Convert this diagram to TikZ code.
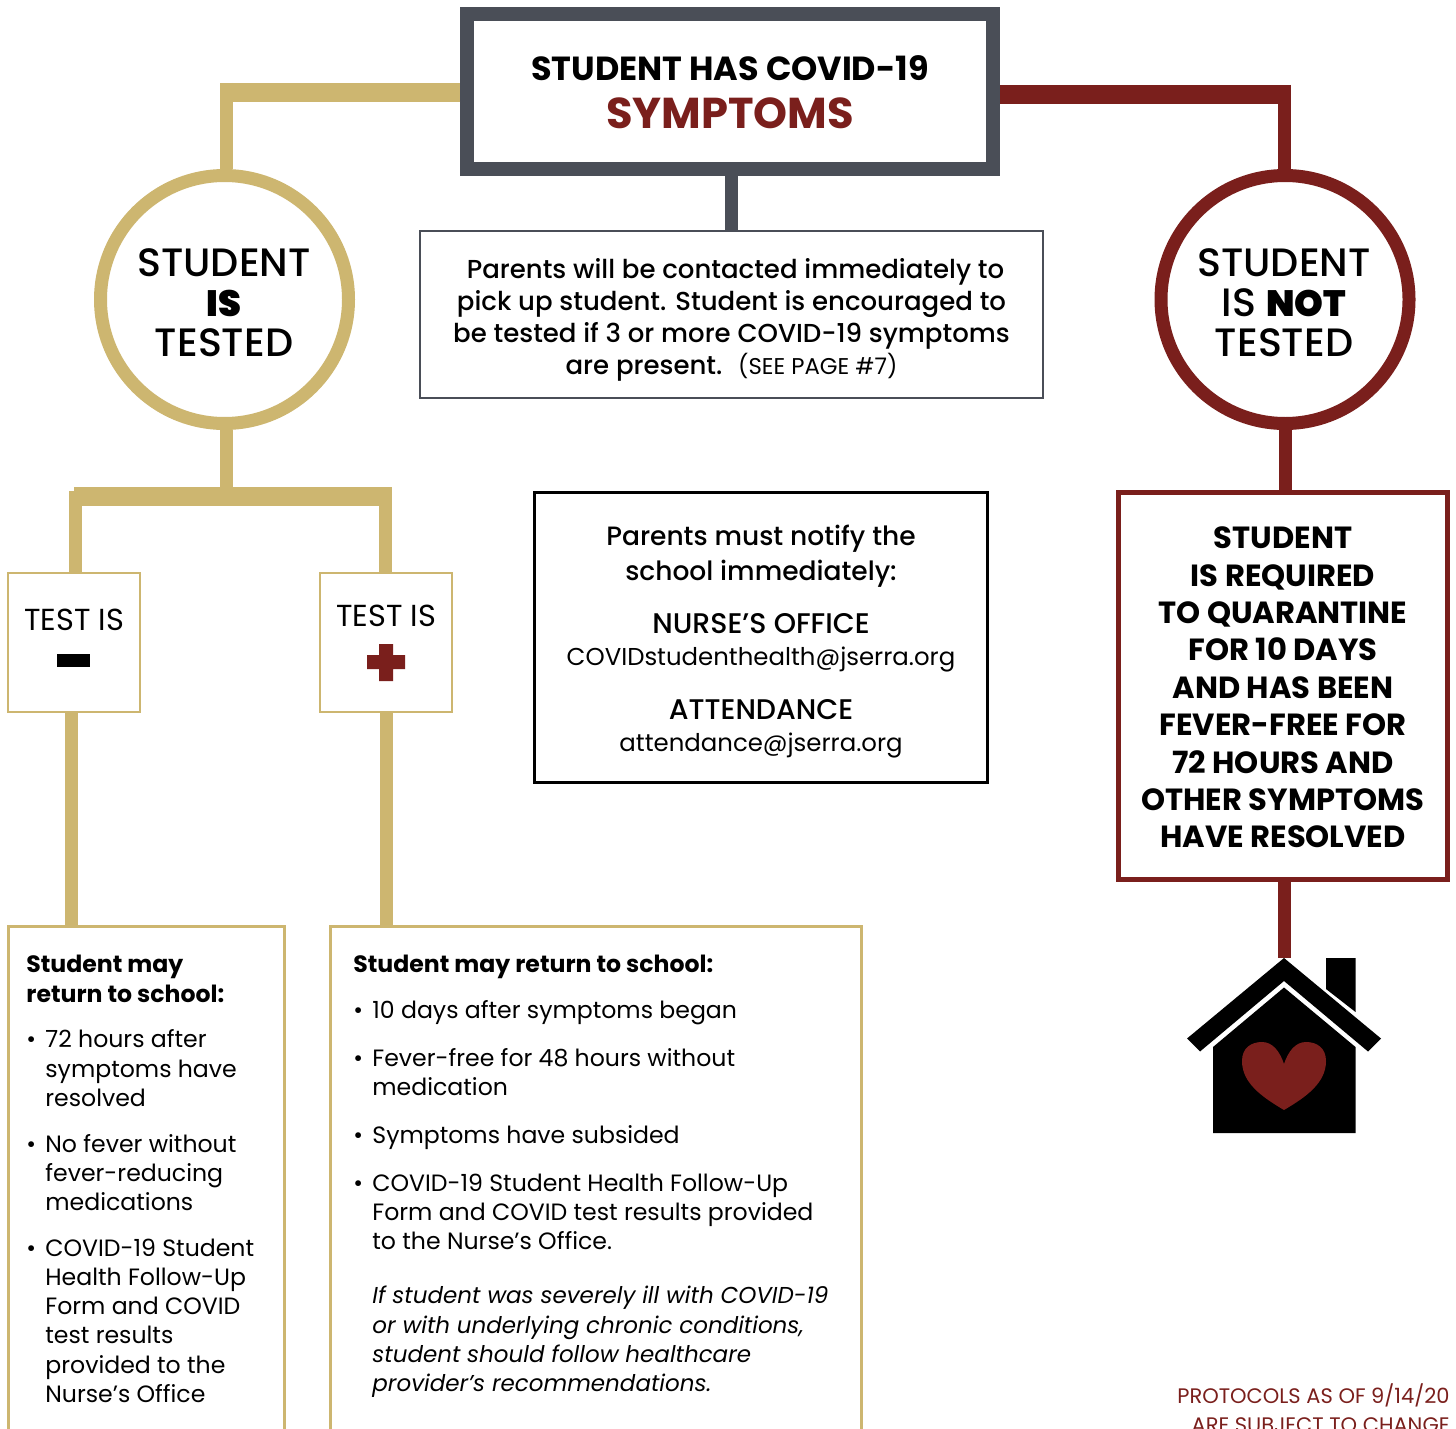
\documentclass[tikz,border=0pt]{standalone}
\usepackage{fontspec}
\usepackage{color}
\usetikzlibrary{calc}
\setmainfont{Poppins}
\newfontfamily\mediumfont{Poppins Medium}
\newfontfamily\blackfont{Poppins Black}
\definecolor{gold}{RGB}{205,182,112}
\definecolor{maroon}{RGB}{122,31,28}
\definecolor{slate}{RGB}{74,78,87}
\newcommand{\bul}[1]{\makebox[9.5pt][l]{\textbullet}#1}
\newcommand{\cont}[1]{\hspace*{9.5pt}#1}
\newcommand{\heavy}[1]{{\blackfont\fontsize{18.3}{20}\selectfont #1}}

\begin{document}
\begin{tikzpicture}[x=0.5pt, y=-0.5pt, inner sep=0pt,
      txt/.style={align=center},
      goldthin/.style={draw=gold, line width=6.5pt},
      goldthick/.style={draw=gold, line width=9.5pt},
      redthin/.style={draw=maroon, line width=6.5pt},
      redthick/.style={draw=maroon, line width=9.5pt},
      goldbox/.style={draw=gold, line width=1.3pt, fill=white},
      ring/.style={circle, minimum size=124pt, line width=6.5pt, fill=white},
      ringfont/.style={font=\fontsize{19.8}{20}\selectfont\mediumfont},
      testfont/.style={font=\fontsize{15.2}{16}\selectfont},
      body/.style={align=left, anchor=north west, font=\fontsize{11.8}{14.6}\selectfont}]
    \useasboundingbox (0,0) rectangle (1456,1429);
    \clip (0,0) rectangle (1456,1429);

    \node (TOP) [draw=slate, line width=7pt, minimum width=263pt, minimum height=77.5pt] at (730,91.5) {};
    \node (TOPTXT) [txt, font=\fontsize{16.7}{22}\selectfont] at (730,92.5)
      {\textbf{STUDENT HAS COVID-19}\\[2pt]{\color{maroon}\fontsize{21.6}{22}\selectfont\textbf{SYMPTOMS}}};
    \node (CALL) [draw=slate, line width=1.3pt, minimum width=311.5pt, minimum height=83.5pt] at (731.5,314.5) {};
    \node (CALLTXT) [txt, font=\fontsize{13}{16}\selectfont\mediumfont] at (731.5,319.5)
      {\hspace*{4pt}Parents will be contacted immediately to\\
       pick up student. Student is encouraged to\\
       be tested if 3 or more COVID-19 symptoms\\
       are present. \ {\fontsize{11.4}{16}\selectfont\rmfamily (SEE PAGE \#7)}};

    \node (RINGL) [ring, draw=gold] at (224.5,299.5) {};
    \node (RINGR) [ring, draw=maroon] at (1285,299.5) {};
    \node (RINGLTXT) [txt, ringfont] at (224,303)
      {STUDENT\\\heavy{IS}\\TESTED};
    \node (RINGRTXT) [txt, ringfont] at (1284,303)
      {STUDENT\\IS \heavy{NOT}\\TESTED};

    % test boxes
    \node (NEG) [goldbox, minimum width=66pt, minimum height=69.5pt] at (74,642.5) {};
    \node (POS) [goldbox, minimum width=66pt, minimum height=69.5pt] at (386,642.5) {};
    \node (NEGTXT) [testfont] at (74,620) {TEST IS};
    \node (POSTXT) [testfont] at (386,616) {TEST IS};
    \node (MINUS) [fill=black, minimum width=16.5pt, minimum height=6.5pt] at (73.5,660.5) {};
    \fill[maroon] (379,644) rectangle (393,681) (367,655) rectangle (405,669);

    % notify box
    \node (NOTIFY) [draw=black, line width=1.5pt, minimum width=226.5pt, minimum height=145pt] at (761,637) {};
    \node (NOTIFYTXT) [txt, font=\fontsize{12.2}{16}\selectfont] at (761,642)
      {{\mediumfont\fontsize{13.25}{16}\selectfont Parents must notify the}\\[1.5pt]
       {\mediumfont\fontsize{13.25}{16}\selectfont school immediately:}\\[10.5pt]
       {\mediumfont\fontsize{14.2}{16}\selectfont NURSE’S OFFICE}\\
       COVIDstudenthealth@jserra.org\\[11pt]
       {\mediumfont\fontsize{14.2}{16}\selectfont ATTENDANCE}\\
       attendance@jserra.org};

    % quarantine box
    \node (QUAR) [draw=maroon, line width=2.5pt, minimum width=164.5pt, minimum height=193.5pt] at (1283,686) {};
    \node (QUARTXT) [txt, font=\fontsize{15.3}{18.7}\selectfont\bfseries] at (1283,687.5)
      {STUDENT\\IS REQUIRED\\TO QUARANTINE\\FOR 10 DAYS\\AND HAS BEEN\\
       FEVER-FREE FOR\\72 HOURS AND\\OTHER SYMPTOMS\\HAVE RESOLVED};

    % return boxes, cut off at the page end
    \node (RETL) [goldbox, anchor=north west, minimum width=138pt, minimum height=300pt] at (7,925) {};
    \node (RETR) [goldbox, anchor=north west, minimum width=265.5pt, minimum height=300pt] at (329,925) {};
    \node (RETLTXT) [body] at (26,955)
      {\textbf{Student may}\\\textbf{return to school:}\\[8.3pt]
       \bul{72 hours after}\\\cont{symptoms have}\\\cont{resolved}\\[8.3pt]
       \bul{No fever without}\\\cont{fever-reducing}\\\cont{medications}\\[8.3pt]
       \bul{COVID-19 Student}\\\cont{Health Follow-Up}\\\cont{Form and COVID}\\\cont{test results}\\
       \cont{provided to the}\\\cont{Nurse’s Office}};
    \node (RETRTXT) [body] at (353,955)
      {\textbf{Student may return to school:}\\[8.3pt]
       \bul{10 days after symptoms began}\\[9.3pt]
       \bul{Fever-free for 48 hours without}\\\cont{medication}\\[9.3pt]
       \bul{Symptoms have subsided}\\[9.3pt]
       \bul{COVID-19 Student Health Follow-Up}\\\cont{Form and COVID test results provided}\\\cont{to the Nurse’s Office.}\\[12.5pt]
       \cont{\fontsize{11.5}{14.6}\selectfont\itshape If student was severely ill with COVID-19}\\
       \cont{\fontsize{11.5}{14.6}\selectfont\itshape or with underlying chronic conditions,}\\
       \cont{\fontsize{11.5}{14.6}\selectfont\itshape student should follow healthcare}\\
       \cont{\fontsize{11.5}{14.6}\selectfont\itshape provider’s recommendations.}};

    \node (NOTE) [align=right, anchor=north east, text=maroon, font=\fontsize{10.5}{14.5}\selectfont] at (1450,1383)
      {PROTOCOLS AS OF 9/14/20\\ARE SUBJECT TO CHANGE};

    % connectors
    \coordinate (GOLDTOP) at (226.5,92.5);
    \coordinate (REDTOP) at (1284.5,94.5);
    \coordinate (FORK) at (226.5,496.5);
    \coordinate (FORKL) at (75.5,491);
    \coordinate (FORKR) at (385.5,487);
    \coordinate (DROPL) at (71,713);
    \coordinate (DROPR) at (386,713);
    \draw[goldthick] (TOP.west |- GOLDTOP) -- ($(GOLDTOP)+(-6.5,0)$);
    \draw[goldthin] ($(GOLDTOP)+(0,-9.5)$) -- (GOLDTOP |- RINGL.north);
    \draw[redthick] (TOP.east |- REDTOP) -- ($(REDTOP)+(6.5,0)$);
    \draw[redthin] ($(REDTOP)+(0,-9.5)$) -- (REDTOP |- RINGR.north);
    \draw[draw=slate, line width=6.5pt] (TOP.south -| CALL.north) -- (CALL.north);
    \draw[goldthin] (RINGL.south -| FORK) -- (FORK);
    \draw[goldthick] (74,496.5) -- (392,496.5);
    \draw[goldthin] (FORKL) -- (FORKL |- NEG.north);
    \draw[goldthin] (FORKR) -- (FORKR |- POS.north);
    \draw[goldthin] (DROPL) -- (DROPL |- RETL.north);
    \draw[goldthin] (DROPR) -- (DROPR |- RETR.north);
    \draw[redthin] (RINGR.south) -- (RINGR.south |- QUAR.north);
    \coordinate (ROOF) at (1284,958);
    \draw[redthin] (QUAR.south -| ROOF) -- (ROOF);

    % house
    \fill[black] (1326,958) -- (1355.5,958) -- (1355.5,1012) -- (1326,989) -- cycle;
    \fill[black] (1284,958) -- (1381,1038.5) -- (1368,1051.5) -- (1284,981) -- (1200,1051.5) -- (1187,1038.5) -- cycle;
    \fill[black] (1284,987.5) -- (1355.5,1047) -- (1355.5,1133) -- (1213,1133) -- (1213,1047) -- cycle;
    \fill[maroon] (1284,1110) .. controls (1262,1097) and (1242,1083) .. (1242,1061)
      .. controls (1242,1048) and (1251,1042) .. (1262,1042)
      .. controls (1273,1042) and (1280,1052) .. (1284,1064)
      .. controls (1288,1052) and (1295,1042) .. (1306,1042)
      .. controls (1317,1042) and (1326,1048) .. (1326,1061)
      .. controls (1326,1083) and (1306,1097) .. (1284,1110) -- cycle;
\end{tikzpicture}
\end{document}
